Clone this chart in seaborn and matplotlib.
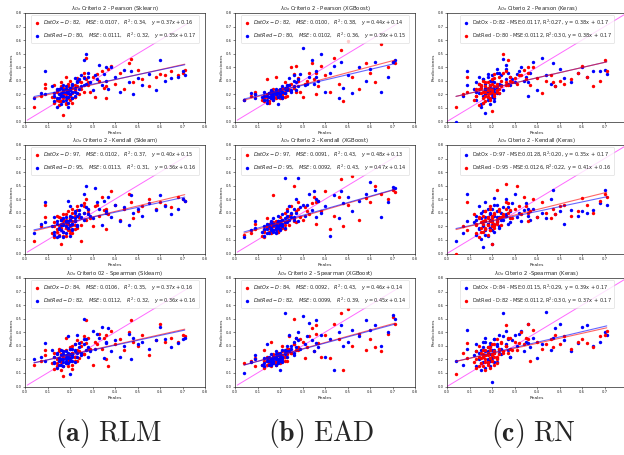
import numpy as np
import pandas as pd
import matplotlib
matplotlib.use("Agg")
import matplotlib.pyplot as plt
import seaborn as sns

# ---------------- data ----------------
reales = [0.04, 0.07, 0.09, 0.09, 0.12, 0.13, 0.13, 0.14, 0.14, 0.15,
          0.15, 0.16, 0.16, 0.16, 0.17, 0.17, 0.17, 0.18, 0.18, 0.18,
          0.19, 0.19, 0.19, 0.20, 0.20, 0.20, 0.21, 0.21, 0.21, 0.22,
          0.22, 0.23, 0.23, 0.24, 0.25, 0.26, 0.26, 0.27, 0.27, 0.28,
          0.30, 0.31, 0.33, 0.34, 0.35, 0.36, 0.37, 0.38, 0.40, 0.42,
          0.44, 0.46, 0.47, 0.48, 0.50, 0.52, 0.55, 0.58, 0.60, 0.62,
          0.65, 0.68, 0.70, 0.71,
          0.13, 0.14, 0.15, 0.16, 0.17, 0.17, 0.18, 0.18, 0.19, 0.19,
          0.20, 0.20, 0.21, 0.21, 0.22, 0.22, 0.23, 0.24, 0.25, 0.26,
          0.28, 0.29, 0.32, 0.36]

# Pearson
sk_pearson_ox = [0.11, 0.19, 0.28, 0.25, 0.18, 0.14, 0.27, 0.16, 0.22, 0.12,
                 0.24, 0.19, 0.15, 0.29, 0.05, 0.21, 0.25, 0.13, 0.20, 0.33,
                 0.17, 0.22, 0.26, 0.19, 0.24, 0.30, 0.14, 0.21, 0.27, 0.18,
                 0.23, 0.32, 0.26, 0.20, 0.29, 0.36, 0.22, 0.47, 0.31, 0.27,
                 0.33, 0.18, 0.30, 0.37, 0.25, 0.17, 0.39, 0.41, 0.28, 0.36,
                 0.24, 0.43, 0.46, 0.29, 0.38, 0.31, 0.26, 0.33, 0.35, 0.34,
                 0.37, 0.34, 0.36, 0.38,
                 0.18, 0.23, 0.15, 0.26, 0.20, 0.17, 0.24, 0.14, 0.21, 0.28,
                 0.19, 0.16, 0.25, 0.22, 0.18, 0.27, 0.21, 0.30, 0.24, 0.33,
                 0.29, 0.22, 0.35, 0.26]
sk_pearson_red = [0.17, 0.21, 0.37, 0.20, 0.26, 0.19, 0.15, 0.24, 0.11, 0.20,
                  0.17, 0.25, 0.21, 0.13, 0.23, 0.19, 0.27, 0.22, 0.16, 0.24,
                  0.21, 0.18, 0.11, 0.25, 0.20, 0.23, 0.28, 0.17, 0.22, 0.32,
                  0.25, 0.29, 0.21, 0.31, 0.26, 0.45, 0.32, 0.50, 0.28, 0.33,
                  0.23, 0.34, 0.42, 0.27, 0.35, 0.30, 0.24, 0.40, 0.33, 0.22,
                  0.38, 0.29, 0.37, 0.20, 0.32, 0.27, 0.35, 0.23, 0.45, 0.30,
                  0.32, 0.33, 0.37, 0.34,
                  0.21, 0.17, 0.24, 0.19, 0.15, 0.22, 0.26, 0.18, 0.23, 0.14,
                  0.25, 0.20, 0.17, 0.27, 0.22, 0.19, 0.30, 0.24, 0.34, 0.27,
                  0.36, 0.29, 0.31, 0.40]
xgb_pearson_ox = [0.16, 0.19, 0.20, 0.22, 0.16, 0.15, 0.19, 0.18, 0.31, 0.14,
                  0.21, 0.19, 0.17, 0.22, 0.20, 0.18, 0.24, 0.21, 0.17, 0.33,
                  0.19, 0.22, 0.20, 0.23, 0.18, 0.21, 0.25, 0.20, 0.17, 0.29,
                  0.22, 0.24, 0.19, 0.27, 0.40, 0.25, 0.35, 0.41, 0.22, 0.30,
                  0.18, 0.28, 0.36, 0.43, 0.31, 0.20, 0.26, 0.41, 0.34, 0.22,
                  0.47, 0.28, 0.53, 0.15, 0.59, 0.33, 0.24, 0.43, 0.36, 0.29,
                  0.57, 0.40, 0.44, 0.43,
                  0.17, 0.20, 0.15, 0.22, 0.19, 0.16, 0.21, 0.18, 0.23, 0.20,
                  0.17, 0.22, 0.19, 0.24, 0.21, 0.18, 0.26, 0.23, 0.28, 0.25,
                  0.32, 0.22, 0.30, 0.36]
xgb_pearson_red = [0.16, 0.21, 0.17, 0.20, 0.18, 0.22, 0.16, 0.19, 0.14, 0.21,
                   0.18, 0.20, 0.23, 0.17, 0.21, 0.19, 0.16, 0.22, 0.20, 0.24,
                   0.18, 0.21, 0.13, 0.20, 0.23, 0.19, 0.22, 0.26, 0.18, 0.24,
                   0.21, 0.27, 0.25, 0.32, 0.23, 0.34, 0.26, 0.29, 0.23, 0.31,
                   0.54, 0.27, 0.33, 0.45, 0.28, 0.37, 0.30, 0.50, 0.22, 0.36,
                   0.41, 0.17, 0.44, 0.25, 0.34, 0.21, 0.40, 0.30, 0.39, 0.44,
                   0.22, 0.33, 0.44, 0.45,
                   0.19, 0.16, 0.21, 0.18, 0.22, 0.17, 0.20, 0.23, 0.18, 0.21,
                   0.24, 0.19, 0.22, 0.17, 0.25, 0.21, 0.23, 0.27, 0.22, 0.30,
                   0.26, 0.35, 0.28, 0.33]
ke_pearson_ox = [0.00, 0.19, 0.27, 0.37, 0.24, 0.16, 0.29, 0.21, 0.33, 0.11,
                 0.26, 0.19, 0.31, 0.14, 0.06, 0.23, 0.28, 0.18, 0.35, 0.22,
                 0.13, 0.26, 0.30, 0.20, 0.24, 0.34, 0.17, 0.22, 0.29, 0.39,
                 0.25, 0.36, 0.21, 0.27, 0.46, 0.31, 0.42, 0.28, 0.36, 0.33,
                 0.29, 0.35, 0.40, 0.30, 0.33, 0.19, 0.36, 0.44, 0.23, 0.47,
                 0.34, 0.28, 0.43, 0.26, 0.39, 0.32, 0.29, 0.36, 0.40, 0.33,
                 0.37, 0.37, 0.38, 0.35,
                 0.22, 0.28, 0.13, 0.31, 0.20, 0.25, 0.16, 0.33, 0.22, 0.27,
                 0.18, 0.30, 0.24, 0.15, 0.36, 0.21, 0.28, 0.34, 0.23, 0.39,
                 0.27, 0.31, 0.37, 0.29]
ke_pearson_red = [0.11, 0.20, 0.22, 0.33, 0.16, 0.24, 0.19, 0.28, 0.12, 0.21,
                  0.25, 0.17, 0.30, 0.22, 0.19, 0.26, 0.15, 0.23, 0.29, 0.20,
                  0.24, 0.17, 0.27, 0.08, 0.22, 0.31, 0.20, 0.26, 0.35, 0.23,
                  0.28, 0.21, 0.33, 0.26, 0.50, 0.29, 0.37, 0.45, 0.27, 0.30,
                  0.32, 0.28, 0.34, 0.38, 0.31, 0.36, 0.27, 0.40, 0.32, 0.21,
                  0.30, 0.34, 0.29, 0.26, 0.30, 0.28, 0.31, 0.36, 0.41, 0.33,
                  0.26, 0.30, 0.45, 0.37,
                  0.19, 0.24, 0.27, 0.14, 0.22, 0.29, 0.18, 0.25, 0.21, 0.16,
                  0.28, 0.23, 0.19, 0.32, 0.26, 0.22, 0.24, 0.30, 0.36, 0.27,
                  0.33, 0.29, 0.34, 0.40]

# Kendall
sk_kendall_ox = [0.09, 0.20, 0.36, 0.27, 0.15, 0.23, 0.12, 0.28, 0.18, 0.21,
                 0.14, 0.26, 0.19, 0.07, 0.24, 0.16, 0.29, 0.21, 0.13, 0.25,
                 0.18, 0.31, 0.22, 0.17, 0.26, 0.20, 0.33, 0.15, 0.24, 0.28,
                 0.21, 0.35, 0.19, 0.27, 0.09, 0.37, 0.30, 0.40, 0.25, 0.32,
                 0.20, 0.35, 0.28, 0.42, 0.32, 0.18, 0.29, 0.46, 0.36, 0.25,
                 0.33, 0.44, 0.38, 0.26, 0.31, 0.35, 0.40, 0.33, 0.38, 0.36,
                 0.34, 0.42, 0.40, 0.39,
                 0.20, 0.16, 0.27, 0.22, 0.13, 0.25, 0.19, 0.29, 0.17, 0.23,
                 0.26, 0.15, 0.21, 0.30, 0.24, 0.18, 0.32, 0.27, 0.21, 0.35,
                 0.30, 0.26, 0.36, 0.33]
sk_kendall_red = [0.15, 0.22, 0.38, 0.23, 0.20, 0.16, 0.27, 0.12, 0.24, 0.19,
                  0.13, 0.21, 0.25, 0.17, 0.22, 0.12, 0.26, 0.20, 0.24, 0.15,
                  0.23, 0.39, 0.19, 0.25, 0.21, 0.35, 0.18, 0.27, 0.22, 0.30,
                  0.24, 0.28, 0.20, 0.32, 0.27, 0.44, 0.30, 0.50, 0.34, 0.29,
                  0.26, 0.48, 0.33, 0.21, 0.39, 0.31, 0.42, 0.27, 0.36, 0.24,
                  0.34, 0.21, 0.43, 0.30, 0.33, 0.28, 0.37, 0.32, 0.43, 0.35,
                  0.29, 0.33, 0.40, 0.39,
                  0.14, 0.22, 0.18, 0.25, 0.21, 0.16, 0.27, 0.23, 0.19, 0.24,
                  0.13, 0.28, 0.22, 0.17, 0.26, 0.31, 0.21, 0.29, 0.36, 0.25,
                  0.33, 0.28, 0.38, 0.30]
xgb_kendall_ox = [0.14, 0.15, 0.22, 0.18, 0.13, 0.12, 0.17, 0.20, 0.26, 0.16,
                  0.19, 0.21, 0.15, 0.18, 0.43, 0.20, 0.17, 0.22, 0.19, 0.24,
                  0.18, 0.21, 0.16, 0.23, 0.20, 0.27, 0.19, 0.22, 0.25, 0.30,
                  0.21, 0.33, 0.24, 0.28, 0.35, 0.50, 0.26, 0.31, 0.23, 0.38,
                  0.25, 0.34, 0.29, 0.37, 0.42, 0.22, 0.39, 0.31, 0.46, 0.18,
                  0.28, 0.42, 0.55, 0.20, 0.36, 0.57, 0.25, 0.41, 0.38, 0.50,
                  0.44, 0.40, 0.47, 0.45,
                  0.16, 0.19, 0.22, 0.17, 0.20, 0.23, 0.18, 0.21, 0.16, 0.24,
                  0.19, 0.22, 0.20, 0.25, 0.18, 0.23, 0.27, 0.21, 0.29, 0.24,
                  0.33, 0.27, 0.31, 0.38]
xgb_kendall_red = [0.12, 0.17, 0.24, 0.19, 0.16, 0.13, 0.20, 0.18, 0.22, 0.15,
                   0.21, 0.17, 0.24, 0.19, 0.16, 0.22, 0.26, 0.18, 0.21, 0.15,
                   0.23, 0.19, 0.28, 0.21, 0.17, 0.24, 0.20, 0.29, 0.22, 0.26,
                   0.56, 0.23, 0.31, 0.35, 0.27, 0.33, 0.25, 0.40, 0.30, 0.56,
                   0.36, 0.28, 0.44, 0.32, 0.46, 0.27, 0.39, 0.30, 0.35, 0.13,
                   0.43, 0.26, 0.46, 0.37, 0.42, 0.31, 0.39, 0.44, 0.53, 0.47,
                   0.27, 0.38, 0.49, 0.48,
                   0.18, 0.15, 0.20, 0.23, 0.17, 0.21, 0.19, 0.16, 0.24, 0.20,
                   0.22, 0.18, 0.25, 0.21, 0.23, 0.19, 0.28, 0.25, 0.30, 0.27,
                   0.24, 0.34, 0.36, 0.40]
ke_kendall_ox = [0.09, 0.15, 0.44, 0.24, 0.23, 0.14, 0.28, 0.19, 0.35, 0.11,
                 0.26, 0.05, 0.31, 0.20, 0.24, 0.17, 0.38, 0.22, 0.13, 0.27,
                 0.30, 0.19, 0.25, 0.07, 0.33, 0.21, 0.28, 0.16, 0.41, 0.23,
                 0.36, 0.20, 0.27, 0.30, 0.25, 0.40, 0.29, 0.34, 0.22, 0.31,
                 0.44, 0.27, 0.24, 0.32, 0.37, 0.28, 0.25, 0.33, 0.27, 0.30,
                 0.26, 0.40, 0.47, 0.29, 0.31, 0.22, 0.32, 0.28, 0.31, 0.30,
                 0.32, 0.37, 0.47, 0.36,
                 0.25, 0.18, 0.30, 0.21, 0.27, 0.14, 0.33, 0.22, 0.19, 0.29,
                 0.24, 0.17, 0.36, 0.21, 0.27, 0.31, 0.19, 0.25, 0.34, 0.28,
                 0.23, 0.37, 0.30, 0.33]
ke_kendall_red = [0.00, 0.20, 0.38, 0.17, 0.29, 0.21, 0.15, 0.26, 0.12, 0.23,
                  0.19, 0.28, 0.16, 0.22, 0.31, 0.18, 0.25, 0.14, 0.27, 0.21,
                  0.24, 0.17, 0.33, 0.20, 0.26, 0.07, 0.22, 0.29, 0.19, 0.47,
                  0.24, 0.31, 0.26, 0.21, 0.28, 0.51, 0.33, 0.30, 0.37, 0.26,
                  0.33, 0.50, 0.29, 0.42, 0.35, 0.24, 0.31, 0.40, 0.27, 0.38,
                  0.30, 0.26, 0.33, 0.29, 0.35, 0.36, 0.28, 0.31, 0.41, 0.36,
                  0.30, 0.39, 0.44, 0.42,
                  0.22, 0.27, 0.16, 0.24, 0.31, 0.19, 0.26, 0.21, 0.35, 0.17,
                  0.28, 0.23, 0.20, 0.30, 0.25, 0.22, 0.33, 0.27, 0.29, 0.38,
                  0.32, 0.26, 0.35, 0.30]

# Spearman
sk_spearman_ox = [0.16, 0.19, 0.27, 0.23, 0.17, 0.13, 0.25, 0.20, 0.15, 0.28,
                  0.21, 0.18, 0.24, 0.12, 0.08, 0.22, 0.26, 0.17, 0.21, 0.36,
                  0.19, 0.24, 0.15, 0.28, 0.20, 0.23, 0.13, 0.25, 0.30, 0.19,
                  0.22, 0.34, 0.27, 0.21, 0.30, 0.37, 0.24, 0.49, 0.32, 0.28,
                  0.16, 0.33, 0.39, 0.28, 0.36, 0.20, 0.15, 0.41, 0.31, 0.35,
                  0.27, 0.40, 0.49, 0.33, 0.30, 0.38, 0.23, 0.34, 0.46, 0.33,
                  0.36, 0.33, 0.38, 0.37,
                  0.22, 0.17, 0.26, 0.19, 0.24, 0.15, 0.21, 0.27, 0.18, 0.23,
                  0.20, 0.29, 0.16, 0.25, 0.22, 0.31, 0.19, 0.26, 0.33, 0.24,
                  0.36, 0.28, 0.31, 0.38]
sk_spearman_red = [0.20, 0.22, 0.32, 0.19, 0.27, 0.17, 0.22, 0.14, 0.25, 0.19,
                   0.16, 0.23, 0.20, 0.27, 0.18, 0.24, 0.15, 0.21, 0.26, 0.19,
                   0.37, 0.22, 0.17, 0.24, 0.09, 0.21, 0.28, 0.19, 0.23, 0.31,
                   0.26, 0.22, 0.38, 0.29, 0.25, 0.50, 0.31, 0.27, 0.35, 0.22,
                   0.41, 0.28, 0.36, 0.44, 0.21, 0.32, 0.43, 0.26, 0.34, 0.22,
                   0.30, 0.39, 0.20, 0.36, 0.31, 0.33, 0.28, 0.34, 0.44, 0.35,
                   0.29, 0.32, 0.35, 0.36,
                   0.18, 0.24, 0.21, 0.16, 0.26, 0.20, 0.23, 0.17, 0.25, 0.21,
                   0.28, 0.19, 0.24, 0.22, 0.18, 0.27, 0.25, 0.32, 0.23, 0.35,
                   0.29, 0.26, 0.39, 0.33]
xgb_spearman_ox = [0.17, 0.19, 0.21, 0.15, 0.16, 0.27, 0.14, 0.19, 0.22, 0.17,
                   0.20, 0.15, 0.33, 0.18, 0.21, 0.24, 0.17, 0.19, 0.22, 0.16,
                   0.20, 0.25, 0.18, 0.23, 0.21, 0.17, 0.26, 0.20, 0.30, 0.22,
                   0.19, 0.28, 0.24, 0.37, 0.25, 0.50, 0.31, 0.27, 0.36, 0.29,
                   0.33, 0.21, 0.37, 0.43, 0.26, 0.45, 0.32, 0.22, 0.38, 0.21,
                   0.46, 0.35, 0.54, 0.12, 0.57, 0.30, 0.39, 0.27, 0.35, 0.29,
                   0.26, 0.39, 0.51, 0.46,
                   0.19, 0.16, 0.21, 0.18, 0.23, 0.20, 0.17, 0.22, 0.19, 0.24,
                   0.21, 0.18, 0.23, 0.20, 0.26, 0.22, 0.19, 0.28, 0.25, 0.31,
                   0.27, 0.35, 0.29, 0.39]
xgb_spearman_red = [0.10, 0.18, 0.20, 0.23, 0.16, 0.21, 0.15, 0.31, 0.19, 0.16,
                    0.22, 0.18, 0.20, 0.24, 0.17, 0.21, 0.19, 0.26, 0.16, 0.22,
                    0.20, 0.18, 0.24, 0.21, 0.12, 0.23, 0.19, 0.27, 0.22, 0.25,
                    0.54, 0.26, 0.30, 0.38, 0.28, 0.33, 0.25, 0.36, 0.29, 0.40,
                    0.52, 0.31, 0.47, 0.34, 0.26, 0.49, 0.29, 0.38, 0.22, 0.35,
                    0.12, 0.40, 0.45, 0.30, 0.33, 0.42, 0.37, 0.49, 0.42, 0.45,
                    0.30, 0.40, 0.53, 0.50,
                    0.17, 0.21, 0.19, 0.16, 0.22, 0.18, 0.24, 0.20, 0.17, 0.23,
                    0.19, 0.25, 0.21, 0.18, 0.24, 0.27, 0.22, 0.26, 0.30, 0.23,
                    0.34, 0.28, 0.37, 0.32]
ke_spearman_ox = [0.19, 0.16, 0.42, 0.28, 0.23, 0.15, 0.31, 0.20, 0.25, 0.12,
                  0.27, 0.18, 0.33, 0.22, 0.14, 0.26, 0.36, 0.20, 0.29, 0.17,
                  0.24, 0.32, 0.19, 0.03, 0.27, 0.22, 0.35, 0.18, 0.25, 0.30,
                  0.21, 0.38, 0.27, 0.24, 0.54, 0.31, 0.41, 0.27, 0.35, 0.22,
                  0.38, 0.30, 0.41, 0.26, 0.33, 0.46, 0.29, 0.36, 0.21, 0.31,
                  0.55, 0.27, 0.36, 0.43, 0.46, 0.34, 0.26, 0.32, 0.44, 0.45,
                  0.30, 0.33, 0.40, 0.38,
                  0.26, 0.21, 0.17, 0.29, 0.23, 0.33, 0.19, 0.26, 0.15, 0.30,
                  0.24, 0.21, 0.35, 0.27, 0.18, 0.31, 0.25, 0.28, 0.37, 0.30,
                  0.22, 0.34, 0.39, 0.32]
ke_spearman_red = [0.09, 0.25, 0.32, 0.21, 0.18, 0.26, 0.14, 0.22, 0.30, 0.17,
                   0.21, 0.24, 0.15, 0.27, 0.20, 0.12, 0.23, 0.29, 0.18, 0.25,
                   0.21, 0.14, 0.27, 0.23, 0.19, 0.31, 0.16, 0.25, 0.22, 0.35,
                   0.20, 0.28, 0.24, 0.32, 0.26, 0.45, 0.30, 0.36, 0.25, 0.28,
                   0.33, 0.27, 0.40, 0.31, 0.36, 0.46, 0.19, 0.42, 0.33, 0.28,
                   0.31, 0.35, 0.29, 0.38, 0.31, 0.37, 0.28, 0.33, 0.35, 0.32,
                   0.29, 0.37, 0.38, 0.41,
                   0.20, 0.15, 0.25, 0.22, 0.18, 0.27, 0.23, 0.16, 0.29, 0.21,
                   0.24, 0.19, 0.31, 0.26, 0.22, 0.17, 0.28, 0.33, 0.25, 0.30,
                   0.36, 0.27, 0.32, 0.35]

preds_ox = [[sk_pearson_ox, xgb_pearson_ox, ke_pearson_ox],
            [sk_kendall_ox, xgb_kendall_ox, ke_kendall_ox],
            [sk_spearman_ox, xgb_spearman_ox, ke_spearman_ox]]
preds_red = [[sk_pearson_red, xgb_pearson_red, ke_pearson_red],
             [sk_kendall_red, xgb_kendall_red, ke_kendall_red],
             [sk_spearman_red, xgb_spearman_red, ke_spearman_red]]

titulos = [["Criterio 2 - Pearson (Sklearn)", "Criterio 2 - Pearson (XGBoost)", "Citerio 2 - Pearson (Keras)"],
           ["Criterio 2 - Kendall (Sklearn)", "Criterio 2 - Kendall (XGBoost)", "Citerio 2 - Kendall (Keras)"],
           ["Criterio 02 - Spearman (Sklearn)", "Criterio 2 - Spearman (XGBoost)", "Citerio 2 -Spearman (Keras)"]]
D_ox = [82, 97, 84]
D_red = [80, 95, 82]
mse_ox = [["0.0107", "0.0100", "0.0117"], ["0.0102", "0.0091", "0.0128"], ["0.0106", "0.0092", "0.0115"]]
mse_red = [["0.0111", "0.0102", "0.0112"], ["0.0113", "0.0092", "0.0126"], ["0.0112", "0.0099", "0.0112"]]
r2_ox = [["0.34", "0.38", "0.27"], ["0.37", "0.43", "0.20"], ["0.35", "0.43", "0.29"]]
r2_red = [["0.32", "0.36", "0.30"], ["0.31", "0.43", "0.22"], ["0.32", "0.39", "0.30"]]
m_ox = [[0.37, 0.44, 0.38], [0.40, 0.48, 0.35], [0.37, 0.46, 0.39]]
b_ox = [[0.16, 0.14, 0.17], [0.15, 0.13, 0.17], [0.16, 0.14, 0.17]]
m_red = [[0.35, 0.39, 0.38], [0.36, 0.47, 0.41], [0.36, 0.45, 0.37]]
b_red = [[0.17, 0.15, 0.17], [0.16, 0.14, 0.16], [0.16, 0.14, 0.17]]
captions = [("(a)", "RLM"), ("(b)", "EAD"), ("(c)", "RN")]
ticks = [0.0, 0.1, 0.2, 0.3, 0.4, 0.5, 0.6, 0.7, 0.8]
tick_labels = ["0.0", "0.1", "0.2", "0.3", "0.4", "0.5", "0.6", "0.7", "0.8"]
identidad = [[0.01, 0.72], [0.01, 0.72], [0.0, 0.8]]

# ---------------- style ----------------
sns.set_style("ticks")
plt.rcParams['font.family'] = ['DejaVu Sans']
plt.rcParams.update({
    'axes.linewidth': 0.5,
    'xtick.major.size': 1.5, 'ytick.major.size': 1.5,
    'xtick.major.width': 0.4, 'ytick.major.width': 0.4,
    'xtick.major.pad': 1.2, 'ytick.major.pad': 1.2,
    'axes.edgecolor': '#222222',
})

W, H = 624, 455
fig = plt.figure(figsize=(W / 100, H / 100), dpi=100)
col_left = [25, 235, 447]
row_top = [13, 145, 278]
ax_w, ax_h = 180, 108.5

for r in range(3):
    for c in range(3):
        ax = fig.add_axes([col_left[c] / W, 1 - (row_top[r] + ax_h) / H, ax_w / W, ax_h / H])
        keras = (c == 2)
        col_ox = 'blue' if keras else 'red'
        col_red = 'red' if keras else 'blue'
        if keras:
            lab_ox = f"DatOx - D:{D_ox[r]} - MSE:{mse_ox[r][c]}, R$^2$:{r2_ox[r][c]}, y = {m_ox[r][c]:.2f}x + {b_ox[r][c]:.2f}"
            lab_red = f"DatRed - D:{D_red[r]} - MSE:{mse_red[r][c]}, R$^2$:{r2_red[r][c]}, y = {m_red[r][c]:.2f}x + {b_red[r][c]:.2f}"
        else:
            lab_ox = (r"$DatOx - D:%d,\;\;\; MSE:%s,\;\;\; R^2:%s,\;\;\; y=%.2fx+%.2f$"
                      % (D_ox[r], mse_ox[r][c], r2_ox[r][c], m_ox[r][c], b_ox[r][c]))
            lab_red = (r"$DatRed - D:%d,\;\;\; MSE:%s,\;\;\; R^2:%s,\;\;\; y=%.2fx+%.2f$"
                       % (D_red[r], mse_red[r][c], r2_red[r][c], m_red[r][c], b_red[r][c]))
        df_ox = pd.DataFrame({'x': reales, 'y': preds_ox[r][c]})
        df_red = pd.DataFrame({'x': reales, 'y': preds_red[r][c]})
        sns.scatterplot(data=df_ox, x='x', y='y', color=col_ox, s=6, linewidth=0, ax=ax, label=lab_ox, zorder=3)
        sns.scatterplot(data=df_red, x='x', y='y', color=col_red, s=6, linewidth=0, ax=ax, label=lab_red, zorder=3)
        # regression lines from the reported coefficients
        xr = np.array([min(reales), max(reales)])
        ax.plot(xr, m_ox[r][c] * xr + b_ox[r][c], color=col_ox, lw=0.8, alpha=0.6, zorder=4)
        ax.plot(xr, m_red[r][c] * xr + b_red[r][c], color=col_red, lw=0.8, alpha=0.6, zorder=4)
        ident = np.array(identidad[c])
        ax.plot(ident, ident, color='#ff44ff', lw=0.7, alpha=0.8, zorder=2)
        ax.set_xlim(0, 0.8)
        ax.set_ylim(0, 0.8)
        ax.set_xticks(ticks)
        ax.set_yticks(ticks)
        ax.set_yticklabels(tick_labels)
        if keras:
            # the right edge of this column lies past the picture's border
            ax.set_xticklabels(tick_labels[:-1] + [""])
        else:
            ax.set_xticklabels(tick_labels)
        ax.tick_params(labelsize=2.7)
        ax.set_xlabel("Reales", fontsize=3.2, labelpad=1.5)
        ax.set_ylabel("Predicciones", fontsize=3.2, labelpad=1.5)
        ax.set_title(r"$\lambda_{Ox}$ " + titulos[r][c], fontsize=3.8, pad=2)
        leg = ax.legend(loc='upper center', fontsize=3.6, frameon=True, handletextpad=0.5,
                        borderpad=0.5, labelspacing=0.6, markerscale=1.0, handlelength=1.5,
                        borderaxespad=0.35)
        leg.get_frame().set_linewidth(0.4)
        leg.get_frame().set_edgecolor('#cccccc')

centers = [109, 321, 533]
for c in range(3):
    fig.text(centers[c] / W, 1 - 433 / H,
             r"$\mathbf{%s}\ \mathrm{%s}$" % captions[c], math_fontfamily='cm',
             fontsize=20, ha='center', va='center')

fig.savefig("out.png", dpi=100)
